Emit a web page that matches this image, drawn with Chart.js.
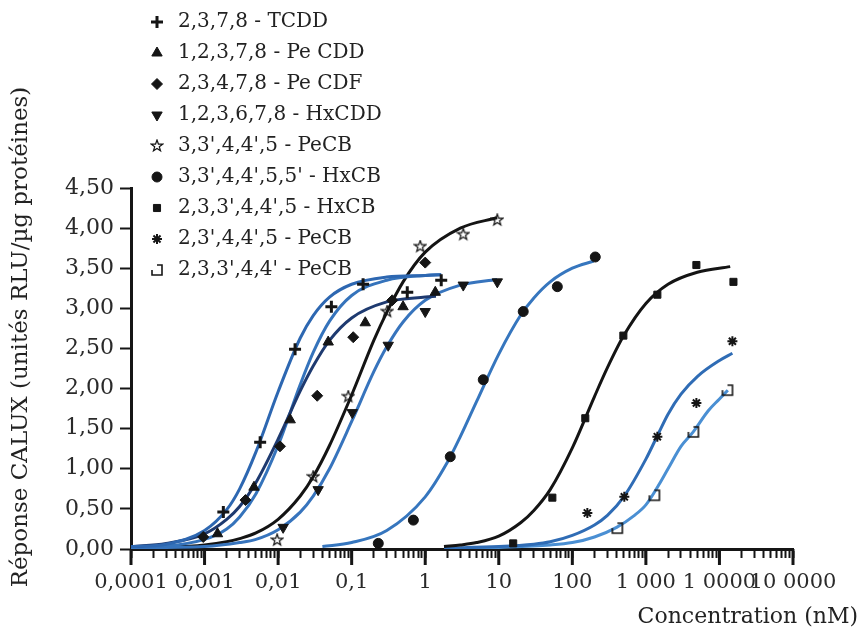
<!DOCTYPE html>
<html>
<head>
<meta charset="utf-8">
<script src="https://cdn.jsdelivr.net/npm/chart.js@4.4.0/dist/chart.umd.min.js"></script>
<style>
  body { margin: 0; background: #fff; }
  #wrap { width: 867px; height: 632px; }
</style>
</head>
<body>
<div id="wrap"><canvas id="calux" width="867" height="632"></canvas></div>
<script>
// legend / series names
const legendLabels = [
  "2,3,7,8 - TCDD",
  "1,2,3,7,8 - Pe CDD",
  "2,3,4,7,8 - Pe CDF",
  "1,2,3,6,7,8 - HxCDD",
  "3,3',4,4',5 - PeCB",
  "3,3',4,4',5,5' - HxCB",
  "2,3,3',4,4',5 - HxCB",
  "2,3',4,4',5 - PeCB",
  "2,3,3',4,4' - PeCB"
];

// x tick labels, one per decade 1e-4 .. 1e5 (as printed on the original)
const xTickLabels = ["0,0001", "0,001", "0,01", "0,1", "1", "10", "100", "1 000", "1 0000", "10 0000"];

// fitted curves: [concentration nM, response]
const tcddFit = [[0.0001,0.03],[0.0003,0.06],[0.001,0.23],[0.002,0.49],[0.003,0.75],[0.005,1.21],[0.01,1.96],[0.02,2.63],[0.03,2.91],[0.05,3.14],[0.1,3.30],[0.3,3.39],[1,3.41],[1.65,3.42]];
const pecddFit = [[0.0001,0.03],[0.0003,0.07],[0.001,0.19],[0.002,0.37],[0.003,0.53],[0.005,0.83],[0.01,1.37],[0.02,1.97],[0.03,2.28],[0.05,2.60],[0.1,2.88],[0.3,3.08],[1,3.14],[1.4,3.15]];
const pecdfFit = [[0.0001,0.03],[0.0003,0.04],[0.001,0.12],[0.002,0.25],[0.003,0.40],[0.005,0.69],[0.01,1.29],[0.02,2.05],[0.03,2.45],[0.05,2.84],[0.1,3.16],[0.3,3.35],[1,3.41],[1.65,3.42]];
const hxcddFit = [[0.0001,0.01],[0.0003,0.02],[0.001,0.03],[0.003,0.08],[0.005,0.12],[0.01,0.24],[0.02,0.46],[0.03,0.66],[0.05,1.00],[0.1,1.59],[0.2,2.21],[0.3,2.52],[0.5,2.83],[1,3.10],[3,3.29],[9.5,3.36]];
const pcb126Fit = [[0.0001,0.01],[0.0003,0.02],[0.001,0.05],[0.002,0.09],[0.003,0.13],[0.005,0.20],[0.01,0.37],[0.02,0.66],[0.03,0.90],[0.05,1.29],[0.1,1.92],[0.2,2.60],[0.3,2.95],[0.5,3.33],[1,3.70],[3,4.00],[9.5,4.13]];
const pcb169Fit = [[0.04,0.03],[0.1,0.08],[0.3,0.23],[1,0.65],[2,1.08],[3,1.40],[5,1.84],[10,2.43],[20,2.92],[30,3.13],[50,3.33],[100,3.50],[195,3.59]];
const pcb156Fit = [[1.8,0.03],[3,0.05],[5,0.08],[10,0.16],[20,0.33],[30,0.48],[50,0.74],[100,1.26],[200,1.90],[300,2.26],[500,2.66],[1000,3.06],[2000,3.30],[5000,3.45],[14000,3.52]];
const pcb118Fit = [[1.8,0.01],[10,0.03],[30,0.06],[50,0.09],[100,0.17],[200,0.30],[300,0.42],[500,0.65],[1000,1.12],[1500,1.45],[2000,1.68],[3000,1.93],[5000,2.15],[10000,2.35],[15000,2.44]];
const pcb105Fit = [[1.8,0.00],[10,0.02],[50,0.05],[100,0.08],[200,0.15],[400,0.27],[700,0.42],[1000,0.55],[1500,0.80],[2000,1.00],[3000,1.28],[4400,1.46],[7000,1.72],[10000,1.87],[13000,1.98]];

// measured points: [concentration nM, response]
const tcddPts = [[0.0018,0.46],[0.0057,1.33],[0.017,2.49],[0.053,3.02],[0.143,3.30],[0.57,3.20],[1.65,3.35]];
const pecddPts = [[0.0015,0.19],[0.0047,0.77],[0.0146,1.61],[0.048,2.58],[0.153,2.82],[0.50,3.02],[1.37,3.20]];
const pecdfPts = [[0.00096,0.15],[0.0036,0.61],[0.0106,1.28],[0.034,1.91],[0.105,2.64],[0.356,3.10],[1.0,3.57]];
const hxcddPts = [[0.0117,0.27],[0.035,0.74],[0.102,1.70],[0.314,2.54],[1.0,2.96],[3.29,3.29],[9.55,3.33]];
const pcb126Pts = [[0.0097,0.11],[0.030,0.90],[0.090,1.90],[0.304,2.96],[0.855,3.77],[3.29,3.92],[9.55,4.10]];
const pcb169Pts = [[0.23,0.07],[0.69,0.36],[2.19,1.15],[6.15,2.11],[21.5,2.96],[62.5,3.27],[205,3.64]];
const pcb156Pts = [[15.7,0.07],[53.5,0.64],[150,1.63],[494,2.66],[1432,3.17],[4860,3.54],[15500,3.33]];
const pcb118Pts = [[160,0.45],[509,0.65],[1432,1.40],[4860,1.82],[15000,2.59]];
const pcb105Pts = [[409,0.26],[1306,0.67],[4426,1.46],[12850,1.98]];

const serif = '"DejaVu Serif", "Liberation Serif", serif';
const ink = '#151515';

function markerCanvas(size, draw) {
  const c = document.createElement('canvas');
  c.width = size; c.height = size;
  const g = c.getContext('2d');
  g.strokeStyle = ink; g.fillStyle = ink;
  draw(g, size);
  return c;
}
// hand-drawn looking open star
const openStar = markerCanvas(14, (g, s) => {
  g.lineWidth = 1.2;
  g.beginPath();
  for (let i = 0; i < 10; i++) {
    const r = i % 2 ? 2.4 : 6;
    const a = -Math.PI / 2 + i * Math.PI / 5;
    const px = s / 2 + r * Math.cos(a), py = s / 2 + r * Math.sin(a);
    i ? g.lineTo(px, py) : g.moveTo(px, py);
  }
  g.closePath();
  g.stroke();
});
// open square, gap at the top left
const openBox = markerCanvas(16, (g) => {
  g.lineWidth = 1.6;
  g.beginPath();
  g.moveTo(3, 8); g.lineTo(3, 13); g.lineTo(13, 13); g.lineTo(13, 3); g.lineTo(8, 3);
  g.stroke();
});

const markers = [
  { pointStyle: 'cross', radius: 6, borderWidth: 3, rotation: 0 },
  { pointStyle: 'triangle', radius: 6, borderWidth: 1, rotation: 0 },
  { pointStyle: 'rectRot', radius: 5.5, borderWidth: 1, rotation: 0 },
  { pointStyle: 'triangle', radius: 6, borderWidth: 1, rotation: 180 },
  { pointStyle: openStar, radius: 6, borderWidth: 0, rotation: 0 },
  { pointStyle: 'circle', radius: 5, borderWidth: 1, rotation: 0 },
  { pointStyle: 'rect', radius: 5, borderWidth: 1, rotation: 0 },
  { pointStyle: 'star', radius: 5, borderWidth: 2, rotation: 0 },
  { pointStyle: openBox, radius: 7, borderWidth: 0, rotation: 0 }
];

const fits = [tcddFit, pecddFit, pecdfFit, hxcddFit, pcb126Fit, pcb169Fit, pcb156Fit, pcb118Fit, pcb105Fit];
const pts = [tcddPts, pecddPts, pecdfPts, hxcddPts, pcb126Pts, pcb169Pts, pcb156Pts, pcb118Pts, pcb105Pts];
const curveColors = ['#2d67b1', '#1e3a70', '#3573bb', '#3774bd', '#141414', '#3676be', '#141414', '#2f6cb5', '#4a8fd3'];

const toXY = arr => arr.map(p => ({ x: p[0], y: p[1] }));

const datasets = [];
fits.forEach((f, i) => {
  datasets.push({
    label: legendLabels[i] + ' fit',
    data: toXY(f),
    showLine: true,
    borderColor: curveColors[i],
    borderWidth: 3,
    pointRadius: 0,
    cubicInterpolationMode: 'monotone',
    order: 2
  });
});
pts.forEach((p, i) => {
  const m = markers[i];
  datasets.push({
    label: legendLabels[i],
    data: toXY(p),
    showLine: false,
    pointStyle: m.pointStyle,
    pointRadius: m.radius,
    pointRotation: m.rotation,
    pointBorderWidth: m.borderWidth,
    pointBackgroundColor: ink,
    pointBorderColor: ink,
    order: 1
  });
});

// decade + minor tick values for the log axis
const xTicks = [];
for (let e = -4; e <= 4; e++) {
  for (let k = 1; k <= 9; k++) xTicks.push({ value: k * Math.pow(10, e), major: k === 1 });
}
xTicks.push({ value: 1e5, major: true });

const decorations = {
  id: 'decorations',
  afterDraw(chart) {
    const ctx = chart.ctx;
    const xs = chart.scales.x;
    const area = chart.chartArea;
    ctx.save();
    // longer decade ticks
    ctx.strokeStyle = ink;
    ctx.lineWidth = 3;
    xs.ticks.forEach(t => {
      if (!t.major) return;
      const px = xs.getPixelForValue(t.value);
      ctx.beginPath();
      ctx.moveTo(px, area.bottom);
      ctx.lineTo(px, area.bottom + 16);
      ctx.stroke();
    });
    // legend
    ctx.font = '20px ' + serif;
    ctx.textBaseline = 'middle';
    ctx.textAlign = 'left';
    legendLabels.forEach((lab, i) => {
      const y = 22 + i * 31;
      const m = markers[i];
      ctx.fillStyle = ink;
      ctx.strokeStyle = ink;
      ctx.lineWidth = m.borderWidth;
      Chart.helpers.drawPoint(ctx, { pointStyle: m.pointStyle, radius: m.radius, rotation: m.rotation, borderWidth: m.borderWidth }, 157, y);
      ctx.fillStyle = '#222';
      ctx.fillText(lab, 178, y);
    });
    // axis titles
    ctx.fillStyle = '#222';
    ctx.font = '22px ' + serif;
    ctx.textAlign = 'right';
    ctx.fillText('Concentration (nM)', 858, 617);
    ctx.translate(21, 337);
    ctx.rotate(-Math.PI / 2);
    ctx.textAlign = 'center';
    ctx.font = '23px ' + serif;
    ctx.fillText('Réponse CALUX (unités RLU/µg protéines)', 0, 0);
    ctx.restore();
  }
};

new Chart(document.getElementById('calux'), {
  type: 'scatter',
  data: { datasets: datasets },
  options: {
    responsive: false,
    animation: false,
    layout: { padding: { top: 188, right: 74, bottom: 0, left: 0 } },
    plugins: { legend: { display: false }, tooltip: { enabled: false } },
    scales: {
      x: {
        type: 'logarithmic',
        min: 1e-4,
        max: 1e5,
        afterBuildTicks: scale => { scale.ticks = xTicks.map(t => ({ value: t.value, major: t.major })); },
        afterFit: scale => { scale.height = 83; },
        ticks: {
          autoSkip: false,
          maxRotation: 0,
          padding: 12,
          color: '#2a2a2a',
          font: { family: serif, size: 21 },
          callback: (v) => {
            const e = Math.log10(v);
            if (Math.abs(e - Math.round(e)) > 1e-6) return '';
            return xTickLabels[Math.round(e) + 4];
          }
        },
        grid: { display: true, drawOnChartArea: false, tickLength: 9, tickWidth: 2, tickColor: ink },
        border: { display: true, color: ink, width: 3 }
      },
      y: {
        min: 0,
        max: 4.5,
        afterFit: scale => { scale.width = 131; },
        ticks: {
          stepSize: 0.5,
          padding: 6,
          color: '#2a2a2a',
          font: { family: serif, size: 22 },
          callback: v => v.toFixed(2).replace('.', ',')
        },
        grid: { display: true, drawOnChartArea: false, tickLength: 11, tickWidth: 2, tickColor: ink },
        border: { display: true, color: ink, width: 3 }
      }
    }
  },
  plugins: [decorations]
});
</script>
</body>
</html>
